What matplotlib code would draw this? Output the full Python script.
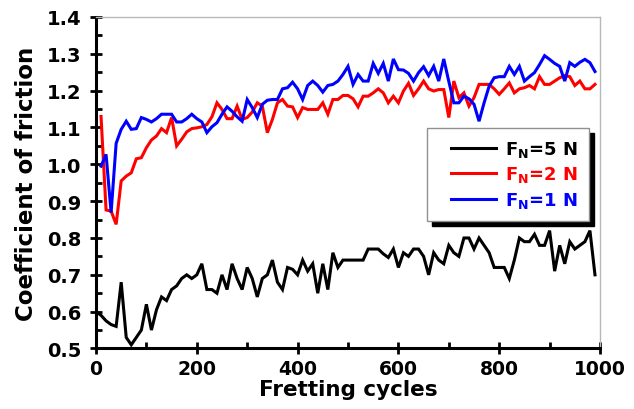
"""
Coefficient of friction vs fretting cycles for three normal loads.
"""

import numpy as np
import matplotlib
matplotlib.use("Agg")
import matplotlib.pyplot as plt
from matplotlib.patches import Rectangle

# ---- data ----
cycles_5N = np.arange(0, 1000, 10)
cycles_low = np.arange(10, 1000, 10)   # 2 N and 1 N runs start at 10 cycles

cof_5N = [
    0.60, 0.59, 0.575, 0.565, 0.56, 0.68, 0.53, 0.51, 0.53, 0.55,
    0.62, 0.55, 0.605, 0.64, 0.63, 0.66, 0.67, 0.69, 0.70, 0.69,
    0.70, 0.73, 0.66, 0.66, 0.65, 0.70, 0.66, 0.73, 0.69, 0.66,
    0.72, 0.69, 0.64, 0.69, 0.70, 0.74, 0.68, 0.66, 0.72, 0.715,
    0.70, 0.74, 0.71, 0.73, 0.65, 0.73, 0.66, 0.76, 0.72, 0.74,
    0.74, 0.74, 0.74, 0.74, 0.77, 0.77, 0.77, 0.757, 0.747, 0.77,
    0.72, 0.76, 0.75, 0.77, 0.77, 0.75, 0.70, 0.76, 0.74, 0.73,
    0.78, 0.76, 0.75, 0.80, 0.80, 0.77, 0.80, 0.78, 0.76, 0.72,
    0.72, 0.72, 0.69, 0.74, 0.80, 0.79, 0.79, 0.81, 0.78, 0.78,
    0.82, 0.71, 0.78, 0.73, 0.79, 0.77, 0.78, 0.79, 0.82, 0.70,
]

cof_2N = [
    1.13, 0.876, 0.873, 0.837, 0.955, 0.968, 0.977, 1.015, 1.018,
    1.045, 1.066, 1.077, 1.097, 1.086, 1.127, 1.050, 1.068, 1.088, 1.097,
    1.099, 1.102, 1.108, 1.129, 1.167, 1.149, 1.124, 1.124, 1.158, 1.122,
    1.127, 1.142, 1.167, 1.158, 1.086, 1.122, 1.167, 1.176, 1.158, 1.156,
    1.127, 1.154, 1.149, 1.149, 1.149, 1.167, 1.136, 1.176, 1.176, 1.187,
    1.187, 1.178, 1.156, 1.185, 1.185, 1.194, 1.205, 1.194, 1.167, 1.185,
    1.167, 1.199, 1.220, 1.187, 1.205, 1.226, 1.205, 1.199, 1.203, 1.203,
    1.127, 1.226, 1.181, 1.194, 1.158, 1.181, 1.217, 1.217, 1.217, 1.205,
    1.190, 1.205, 1.221, 1.194, 1.205, 1.208, 1.214, 1.205, 1.238, 1.217,
    1.217, 1.226, 1.235, 1.241, 1.238, 1.214, 1.226, 1.205, 1.205, 1.217,
]

cof_1N = [
    0.995, 1.027, 0.869, 1.057, 1.095, 1.117, 1.095, 1.097, 1.127,
    1.122, 1.115, 1.124, 1.136, 1.136, 1.136, 1.115, 1.115, 1.124, 1.136,
    1.124, 1.115, 1.086, 1.102, 1.113, 1.136, 1.156, 1.144, 1.129, 1.117,
    1.176, 1.154, 1.127, 1.163, 1.174, 1.176, 1.176, 1.205, 1.208, 1.223,
    1.205, 1.176, 1.214, 1.226, 1.214, 1.196, 1.214, 1.217, 1.226, 1.244,
    1.266, 1.217, 1.244, 1.226, 1.226, 1.274, 1.247, 1.274, 1.226, 1.286,
    1.257, 1.256, 1.247, 1.226, 1.249, 1.265, 1.241, 1.266, 1.226, 1.286,
    1.225, 1.167, 1.167, 1.185, 1.178, 1.163, 1.117, 1.167, 1.212, 1.235,
    1.238, 1.238, 1.266, 1.244, 1.266, 1.226, 1.238, 1.249, 1.271, 1.295,
    1.285, 1.274, 1.266, 1.226, 1.276, 1.266, 1.277, 1.285, 1.276, 1.252,
]

labels = [r'F$_\mathbf{N}$=5 N', r'F$_\mathbf{N}$=2 N', r'F$_\mathbf{N}$=1 N']
colors = ['black', '#ff0000', '#0000ff']

plt.rcParams['font.family'] = 'DejaVu Sans'
plt.rcParams['font.weight'] = 'bold'
plt.rcParams['axes.labelweight'] = 'bold'

fig = plt.figure(figsize=(6.34, 4.10), dpi=100)
ax = fig.add_axes([0.1514, 0.1476, 0.795, 0.8085])

lines = []
for x, y, c in [(cycles_5N, cof_5N, colors[0]),
                (cycles_low, cof_2N, colors[1]),
                (cycles_low, cof_1N, colors[2])]:
    ln, = ax.plot(x, y, color=c, linewidth=2.2, solid_joinstyle='miter')
    lines.append(ln)

ax.set_xlim(0, 1000)
ax.set_ylim(0.5, 1.4)
ax.set_xticks(np.arange(0, 1001, 200))
ax.set_xticks(np.arange(100, 1000, 200), minor=True)
ax.set_yticks(np.arange(0.5, 1.41, 0.1))
ax.set_yticks(np.arange(0.55, 1.4, 0.1), minor=True)
ax.yaxis.set_major_formatter(plt.FormatStrFormatter('%.1f'))

ax.tick_params(which='major', direction='inout', length=9, width=2,
               labelsize=13.5, top=False, right=False)
ax.tick_params(axis='x', which='major', pad=3)
ax.tick_params(axis='y', which='major', pad=6, labelsize=14)
ax.tick_params(which='minor', direction='in', length=4, width=2,
               top=False, right=False)

for side in ['left', 'bottom']:
    ax.spines[side].set_linewidth(2.2)
for side in ['top', 'right']:
    ax.spines[side].set_linewidth(1.0)
    ax.spines[side].set_color('#b8b8b8')

ax.set_xlabel('Fretting cycles', fontsize=15.5, labelpad=1)
ax.set_ylabel('Coefficient of friction', fontsize=16.5, labelpad=6)

# legend box with a hard black drop shadow
box = (0.657, 0.385, 0.321, 0.2805)
ax.add_patch(Rectangle((box[0] + 0.010, box[1] - 0.015), box[2], box[3],
                       transform=ax.transAxes, facecolor='black',
                       edgecolor='black', zorder=4))
ax.add_patch(Rectangle((box[0], box[1]), box[2], box[3],
                       transform=ax.transAxes, facecolor='white',
                       edgecolor='#909090', linewidth=1.0, zorder=4.5))

leg = ax.legend(lines, labels, loc='center', bbox_to_anchor=(0.83, 0.525),
                frameon=False, fontsize=13, handlelength=2.5,
                handletextpad=0.5, labelspacing=0.3)
leg.set_zorder(5)
for txt, c in zip(leg.get_texts(), colors):
    txt.set_color(c)

fig.savefig('out.png', dpi=100)
